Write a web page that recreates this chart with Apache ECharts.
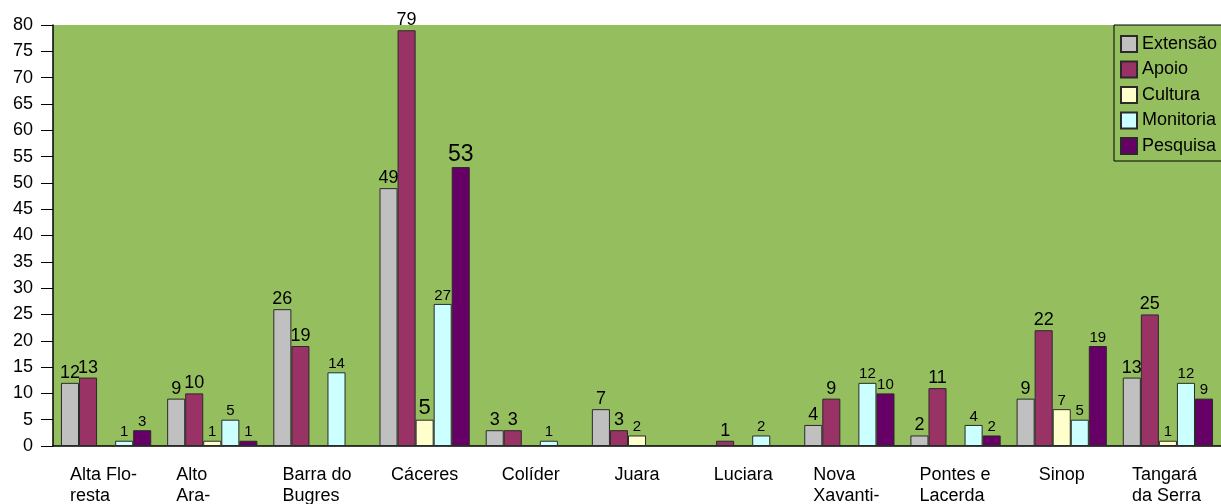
<!DOCTYPE html>
<html>
<head>
<meta charset="utf-8">
<script src="https://cdn.jsdelivr.net/npm/echarts@6/dist/echarts.min.js"></script>
<style>
html,body{margin:0;padding:0;background:#fff;}
#chart{width:1221px;height:504px;}
</style>
</head>
<body>
<div id="chart"></div>
<script>
const categories = ['Alta Flo-\nresta', 'Alto\nAra-\nguaia', 'Barra do\nBugres', 'Cáceres', 'Colíder', 'Juara', 'Luciara', 'Nova\nXavanti-\nna', 'Pontes e\nLacerda', 'Sinop', 'Tangará\nda Serra'];
const seriesNames = ['Extensão', 'Apoio', 'Cultura', 'Monitoria', 'Pesquisa'];
const extensao  = [12, 9, 26, 49, 3, 7, null, 4, 2, 9, 13];
const apoio     = [13, 10, 19, 79, 3, 3, 1, 9, 11, 22, 25];
const cultura   = [null, 1, null, 5, null, 2, null, null, null, 7, 1];
const monitoria = [1, 5, 14, 27, 1, null, 2, 12, 4, 5, 12];
const pesquisa  = [3, 1, null, 53, null, null, null, 10, 2, 19, 9];
const yTicks = [0, 80, 5];

const seriesValues = [extensao, apoio, cultura, monitoria, pesquisa];
const colors = ['#C0C0C0', '#993366', '#FFFFCC', '#CCFFFF', '#660066'];
const labelSizes = [18, 18, 15, 15, 15];
const bigSizes = {2: 22, 4: 23}; // larger labels used on the tallest group

const chart = echarts.init(document.getElementById('chart'));
const FONT = 'Liberation Sans, Arial, sans-serif';

const series = seriesValues.map((vals, s) => ({
  name: seriesNames[s],
  type: 'bar',
  barGap: '0%',
  barCategoryGap: '15%',
  itemStyle: { color: colors[s], borderColor: '#2a2a2a', borderWidth: 1 },
  label: {
    show: true, position: 'top', distance: 1, color: '#000',
    fontFamily: FONT, fontSize: labelSizes[s]
  },
  data: vals.map((v, i) => {
    if (v == null) return null;
    const item = { value: v };
    if (categories[i] === 'Cáceres' && bigSizes[s]) item.label = { fontSize: bigSizes[s] };
    return item;
  })
}));

chart.setOption({
  animation: false,
  textStyle: { fontFamily: FONT },
  grid: {
    left: 53, right: 0, top: 25, bottom: 58,
    outerBoundsMode: 'none',
    containLabel: false,
    show: true, backgroundColor: '#95BE5F', borderWidth: 0
  },
  legend: {
    orient: 'vertical',
    left: 1114, top: 25,
    itemWidth: 16, itemHeight: 16, itemGap: 7.5,
    padding: [10, 14, 6, 6],
    backgroundColor: '#95BE5F',
    borderColor: '#000', borderWidth: 1,
    icon: 'rect',
    textStyle: { fontSize: 18, color: '#000', fontFamily: FONT, lineHeight: 16 },
    data: seriesNames
  },
  xAxis: {
    type: 'category',
    data: categories,
    axisLine: { lineStyle: { color: '#000', width: 1.5 } },
    axisTick: { length: 12, lineStyle: { color: '#000' } },
    axisLabel: {
      interval: 0, margin: 19, color: '#000', fontSize: 18, lineHeight: 21,
      fontFamily: FONT,
      formatter: function (v) {
        if (v.indexOf('\n') < 0) return v;
        return v.split('\n').map(l => '{m|' + l + '}').join('\n');
      },
      rich: { m: { align: 'left', width: 72, fontSize: 18, lineHeight: 21, color: '#000', fontFamily: FONT } }
    }
  },
  yAxis: {
    type: 'value',
    min: yTicks[0], max: yTicks[1], interval: yTicks[2],
    splitLine: { show: false },
    axisLine: { show: true, lineStyle: { color: '#000', width: 1.5 } },
    axisTick: { show: true, length: 12, lineStyle: { color: '#000' } },
    axisLabel: { margin: 20, color: '#000', fontSize: 18, fontFamily: FONT }
  },
  series: series
});
</script>
</body>
</html>
